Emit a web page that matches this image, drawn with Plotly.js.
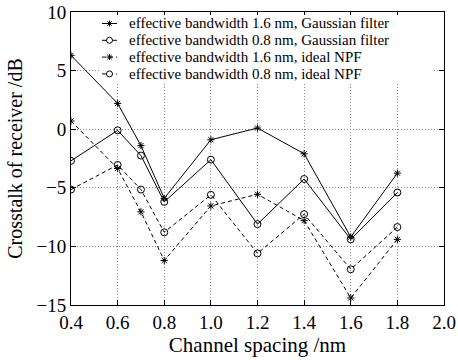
<!DOCTYPE html>
<html><head><meta charset="utf-8">
<script src="https://cdn.plot.ly/plotly-3.0.1.min.js"></script>
<style>body{margin:0;background:#fff}#chart{width:458px;height:360px}</style>
</head><body><div id="chart"></div>
<script>
const spacing = [0.4, 0.6, 0.7, 0.8, 1.0, 1.2, 1.4, 1.6, 1.8];
const gauss16 = [6.3, 2.2, -1.4, -5.9, -0.9, 0.1, -2.1, -9.2, -3.75];
const gauss08 = [-2.7, -0.1, -2.25, -6.2, -2.6, -8.1, -4.25, -9.4, -5.4];
const npf16 = [0.7, -3.35, -7.05, -11.2, -6.55, -5.55, -7.8, -14.4, -9.4];
const npf08 = [-5.15, -3.05, -5.15, -8.8, -5.6, -10.6, -7.25, -11.95, -8.35];
const names = [
  'effective bandwidth 1.6 nm, Gaussian filter',
  'effective bandwidth 0.8 nm, Gaussian filter',
  'effective bandwidth 1.6 nm, ideal NPF',
  'effective bandwidth 0.8 nm, ideal NPF'
];
const xTicks = [0.4, 0.6, 0.8, 1.0, 1.2, 1.4, 1.6, 1.8, 2.0];
const yTicks = [-15, -10, -5, 0, 5, 10];

const series = [gauss16, gauss08, npf16, npf08];
const symbols = ['asterisk-open', 'circle-open', 'asterisk-open', 'circle-open'];
const dashes = ['solid', 'solid', '4px,3px', '4px,3px'];
const traces = series.map((ys, i) => ({
  x: spacing, y: ys, name: names[i], type: 'scatter', mode: 'lines+markers',
  showlegend: false,
  line: {color: '#000', width: 1, dash: dashes[i]},
  marker: {symbol: symbols[i], size: symbols[i] === 'circle-open' ? 7 : 6, color: '#000', line: {color: '#000', width: 1}}
}));

const fam = '"Liberation Serif", "Times New Roman", serif';
const f = s => ({family: fam, size: s, color: '#000'});

// hand-built legend (tight line spacing like the original)
const L = {left: 0.0777, right: 0.9678, top: 0.9898, bottom: 0.761,
           keyX0: 0.0831, keyX1: 0.1233, keyMid: 0.1032, textX: 0.1528,
           rows: [0.9608, 0.9034, 0.8461, 0.7887]};
const shapes = [{type: 'rect', xref: 'paper', yref: 'paper', x0: L.left, x1: L.right, y0: L.bottom, y1: L.top,
  fillcolor: '#fff', line: {width: 0}, layer: 'above'}];
const annotations = [];
const star = 'M -3 0 L 3 0 M 0 -3 L 0 3 M -2.2 -2.2 L 2.2 2.2 M -2.2 2.2 L 2.2 -2.2';
names.forEach((n, i) => {
  const ry = L.rows[i];
  shapes.push({type: 'line', xref: 'paper', yref: 'paper', x0: L.keyX0, x1: L.keyX1, y0: ry, y1: ry,
    line: {color: '#000', width: 1, dash: dashes[i]}, layer: 'above'});
  if (symbols[i] === 'circle-open') {
    shapes.push({type: 'circle', xref: 'paper', yref: 'paper', xsizemode: 'pixel', ysizemode: 'pixel',
      xanchor: L.keyMid, yanchor: ry, x0: -3, x1: 3, y0: -3, y1: 3,
      fillcolor: '#fff', line: {color: '#000', width: 1}, layer: 'above'});
  } else {
    shapes.push({type: 'path', xref: 'paper', yref: 'paper', xsizemode: 'pixel', ysizemode: 'pixel',
      xanchor: L.keyMid, yanchor: ry, path: star, line: {color: '#000', width: 1}, layer: 'above'});
  }
  annotations.push({xref: 'paper', yref: 'paper', x: L.textX, y: ry, xanchor: 'left', yanchor: 'middle',
    text: n, showarrow: false, font: f(15), borderpad: 0});
});

const axisCommon = {
  ticks: 'inside', ticklen: 5, tickcolor: '#000', mirror: 'ticks',
  showline: true, linecolor: '#000', linewidth: 1,
  showgrid: true, gridcolor: '#8a8a8a', griddash: '1px,2px', gridwidth: 1, zeroline: false,
  tickfont: f(19)
};
const layout = {
  width: 458, height: 360,
  margin: {l: 71, r: 14, t: 12, b: 55},
  paper_bgcolor: '#fff', plot_bgcolor: '#fff',
  font: f(19),
  showlegend: false,
  shapes: shapes, annotations: annotations,
  xaxis: Object.assign({}, axisCommon, {
    range: [0.4, 2.0], tickvals: xTicks, ticktext: xTicks.map(v => v.toFixed(1)),
    title: {text: 'Channel spacing /nm', font: f(21), standoff: 2}
  }),
  yaxis: Object.assign({}, axisCommon, {
    range: [-15, 10], tickvals: yTicks,
    title: {text: 'Crosstalk of receiver /dB', font: f(20), standoff: 8}
  })
};
Plotly.newPlot('chart', traces, layout, {displayModeBar: false, staticPlot: true});
</script></body></html>
